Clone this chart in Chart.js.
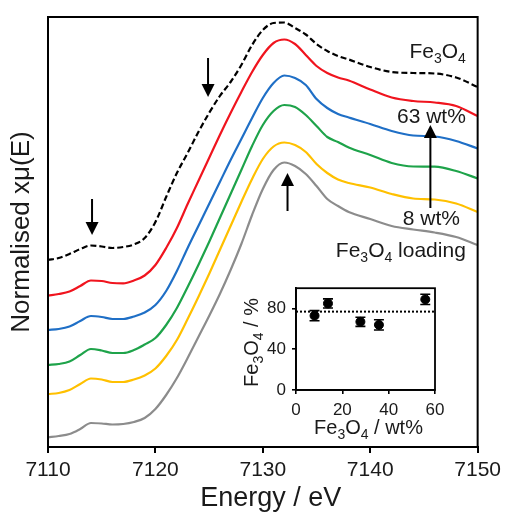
<!DOCTYPE html>
<html>
<head>
<meta charset="utf-8">
<script src="https://cdn.jsdelivr.net/npm/chart.js@4.4.1/dist/chart.umd.min.js"></script>
<style>
html, body { margin: 0; padding: 0; background: #fff; }
#wrap { position: relative; width: 506px; height: 514px; }
#main { position: absolute; left: 0; top: 0; }
#inset { position: absolute; left: 240px; top: 272px; }
</style>
</head>
<body>
<div id="wrap">
<canvas id="main" width="506" height="514"></canvas>
<canvas id="inset" width="215" height="175"></canvas>
</div>
<script>
// ----------------------------------------------------------------------
//	Fe K-edge XANES, stacked spectra + inset of Fe3O4 fraction
// ----------------------------------------------------------------------
const energy = [7110,7111,7112,7113,7114,7115,7116,7117,7118,7119,7120,7121,7122,7123,7124,7125,7126,7127,7128,7129,7130,7131,7132,7133,7134,7135,7136,7137,7138,7140,7142,7144,7146,7148,7150]

const fe3o4Ref = [1.87,1.89,1.93,1.98,2.015,2.005,1.99,2.00,2.025,2.09,2.25,2.50,2.74,2.94,3.15,3.34,3.51,3.65,3.82,4.02,4.17,4.24,4.245,4.19,4.125,4.03,3.96,3.91,3.875,3.80,3.75,3.74,3.735,3.695,3.60]
const redCurve = [1.513,1.53,1.555,1.61,1.665,1.66,1.64,1.637,1.665,1.715,1.82,1.99,2.19,2.43,2.66,2.89,3.12,3.34,3.55,3.75,3.92,4.04,4.075,4.03,3.92,3.81,3.74,3.695,3.665,3.575,3.495,3.46,3.445,3.41,3.31]
const blueCurve = [1.17,1.18,1.205,1.26,1.31,1.30,1.28,1.28,1.305,1.345,1.42,1.56,1.76,1.99,2.21,2.43,2.65,2.87,3.08,3.29,3.49,3.64,3.715,3.69,3.62,3.48,3.39,3.33,3.295,3.23,3.16,3.115,3.105,3.06,2.985]
const greenCurve = [0.82,0.83,0.855,0.92,0.98,0.965,0.94,0.94,0.97,1.025,1.09,1.22,1.39,1.60,1.82,2.05,2.29,2.53,2.77,3.01,3.22,3.36,3.42,3.40,3.32,3.21,3.10,3.05,2.995,2.92,2.84,2.805,2.803,2.76,2.685]
const yellowCurve = [0.53,0.54,0.57,0.63,0.685,0.675,0.65,0.65,0.675,0.715,0.785,0.91,1.07,1.28,1.50,1.73,1.97,2.21,2.45,2.68,2.88,3.005,3.045,3.02,2.95,2.83,2.74,2.675,2.64,2.595,2.53,2.485,2.475,2.435,2.35]
const greyCurve = [0.097,0.11,0.13,0.18,0.24,0.235,0.225,0.23,0.25,0.29,0.38,0.52,0.69,0.89,1.10,1.31,1.53,1.77,2.03,2.32,2.58,2.77,2.845,2.81,2.73,2.61,2.48,2.41,2.35,2.28,2.21,2.175,2.145,2.10,2.02]

const xTicks = [7110,7120,7130,7140,7150]

// inset
const loading = [8, 13.8, 27.8, 35.8, 55.8]
const fe3o4Frac = [73, 85, 67, 64, 89]
const fracErr = [5, 4.5, 4.5, 5, 5]
const fracMean = 77
const insetXTicks = [0,20,40,60]
const insetYTicks = [0,40,80]

const FONT = "'Liberation Sans', Arial, sans-serif"
const INK = '#1a1a1a'
Chart.defaults.font.family = FONT
Chart.defaults.color = INK

const FE3O4 = [['Fe',0],['3',1],['O',0],['4',1]]

// ----------------------------------------------------------------------
function xy(ys)
{
	return energy.map((e,i) => ({x: e, y: ys[i]}))
}

function line(ys, color, dash)
{
	return {
		data: xy(ys),
		borderColor: color,
		borderWidth: 2.2,
		borderDash: dash || [],
		pointRadius: 0,
		tension: 0.4,
		cubicInterpolationMode: 'monotone',
		fill: false
		}
}

function subText(ctx, parts, x, y, size, align)
{
	const big = size + "px " + FONT
	const small = Math.round(size * 0.68) + "px " + FONT
	let w = 0
	parts.forEach(p => { ctx.font = p[1] ? small : big; w += ctx.measureText(p[0]).width })
	let cx = align == 'right' ? x - w : (align == 'center' ? x - w / 2 : x)
	ctx.textAlign = 'left'
	ctx.textBaseline = 'alphabetic'
	parts.forEach(p => {
		ctx.font = p[1] ? small : big
		ctx.fillText(p[0], cx, p[1] ? y + size * 0.24 : y)
		cx += ctx.measureText(p[0]).width
		})
}

function arrow(ctx, px, yTail, yTip)
{
	const dir = yTip > yTail ? 1 : -1
	ctx.beginPath()
	ctx.moveTo(px, yTail)
	ctx.lineTo(px, yTip - dir * 11)
	ctx.stroke()
	ctx.beginPath()
	ctx.moveTo(px, yTip)
	ctx.lineTo(px - 6.5, yTip - dir * 13)
	ctx.lineTo(px + 6.5, yTip - dir * 13)
	ctx.closePath()
	ctx.fill()
}

// annotation places in data units (energy, intensity)
const arrowsAt = [[7114.1, 2.48, 2.12], [7124.9, 3.89, 3.50], [7132.3, 2.36, 2.74], [7145.6, 2.39, 3.22]]
const labelsAt = [
	{e: 7148.9, v: 3.89, parts: FE3O4},
	{e: 7148.9, v: 3.24, parts: [['63 wt%',0]]},
	{e: 7148.35, v: 2.22, parts: [['8 wt%',0]]},
	{e: 7148.9, v: 1.90, parts: FE3O4.concat([[' loading',0]])}
	]

const mainDecor = {
	id: 'mainDecor',
	afterDraw(chart)
	{
		const {ctx, chartArea: a, scales: {x, y}} = chart
		ctx.save()
		ctx.strokeStyle = '#000'
		ctx.lineWidth = 2
		ctx.strokeRect(a.left, a.top, a.right - a.left, a.bottom - a.top)
		ctx.fillStyle = '#000'
		arrowsAt.forEach(r => arrow(ctx, x.getPixelForValue(r[0]), y.getPixelForValue(r[1]), y.getPixelForValue(r[2])))
		ctx.fillStyle = INK
		labelsAt.forEach(l => subText(ctx, l.parts, x.getPixelForValue(l.e), y.getPixelForValue(l.v), 21, 'right'))
		// x axis title, sits a little right of the plot centre
		ctx.font = "27px " + FONT
		ctx.textAlign = 'center'
		ctx.textBaseline = 'middle'
		ctx.fillText('Energy / eV', (a.left + a.right) / 2 + 8, 499)
		ctx.restore()
	}
}

new Chart(document.getElementById('main'), {
	type: 'line',
	data: {
		datasets: [
			line(greyCurve, '#8c8c8c'),
			line(yellowCurve, '#ffc000'),
			line(greenCurve, '#1ea34a'),
			line(blueCurve, '#1f6fc6'),
			line(redCurve, '#f0141e'),
			line(fe3o4Ref, '#000000', [6,3])
			]
		},
	options: {
		responsive: false,
		animation: false,
		events: [],
		layout: {padding: {left: 0, right: 28, top: 17, bottom: 0}},
		plugins: {legend: {display: false}, tooltip: {enabled: false}},
		scales: {
			x: {
				type: 'linear', min: 7110, max: 7150,
				afterFit: s => { s.height = 67 },
				afterBuildTicks: s => { s.ticks = xTicks.map(v => ({value: v})) },
				ticks: {font: {size: 21}, padding: 5, color: INK, maxRotation: 0, callback: v => String(v)},
				grid: {display: true, drawOnChartArea: false, drawTicks: true, tickLength: 6, color: '#000', lineWidth: 2},
				border: {display: true, color: '#000', width: 2}
				},
			y: {
				min: 0, max: 4.3,
				afterFit: s => { s.width = 48 },
				ticks: {display: false},
				grid: {display: false},
				border: {display: true, color: '#000', width: 2},
				title: {display: true, text: 'Normalised xμ(E)', font: {size: 26}, color: INK, padding: {top: 6, bottom: 0}}
				}
			}
		},
	plugins: [mainDecor]
})

// ----------------------------------------------------------------------
const insetDecor = {
	id: 'insetDecor',
	afterDatasetsDraw(chart)
	{
		const {ctx, chartArea: a, scales: {x, y}} = chart
		ctx.save()
		ctx.strokeStyle = '#000'
		ctx.lineWidth = 1.6
		loading.forEach((v,i) => {
			const px = x.getPixelForValue(v)
			const yt = y.getPixelForValue(fe3o4Frac[i] + fracErr[i])
			const yb = y.getPixelForValue(fe3o4Frac[i] - fracErr[i])
			ctx.beginPath()
			ctx.moveTo(px, yt); ctx.lineTo(px, yb)
			ctx.moveTo(px - 5, yt); ctx.lineTo(px + 5, yt)
			ctx.moveTo(px - 5, yb); ctx.lineTo(px + 5, yb)
			ctx.stroke()
			})
		ctx.lineWidth = 1.8
		ctx.strokeRect(a.left, a.top, a.right - a.left, a.bottom - a.top)
		ctx.fillStyle = INK
		subText(ctx, FE3O4.concat([[' / wt%',0]]), (a.left + a.right) / 2 + 3, 162, 20, 'center')
		ctx.translate(18, 70.5)
		ctx.rotate(-Math.PI / 2)
		subText(ctx, FE3O4.concat([[' / %',0]]), 0, 0, 20, 'center')
		ctx.restore()
	}
}

new Chart(document.getElementById('inset'), {
	type: 'scatter',
	data: {
		datasets: [
			{
			data: loading.map((v,i) => ({x: v, y: fe3o4Frac[i]})),
			pointRadius: 4.5,
			backgroundColor: '#000',
			borderColor: '#000'
			},
			{
			type: 'line',
			data: [{x: 0, y: fracMean}, {x: 60, y: fracMean}],
			borderColor: '#000',
			borderWidth: 2,
			borderDash: [2,2],
			pointRadius: 0
			}
			]
		},
	options: {
		responsive: false,
		animation: false,
		events: [],
		layout: {padding: {left: 0, right: 20, top: 10, bottom: 0}},
		plugins: {legend: {display: false}, tooltip: {enabled: false}},
		scales: {
			x: {
				type: 'linear', min: 0, max: 60,
				afterFit: s => { s.height = 57 },
				afterBuildTicks: s => { s.ticks = insetXTicks.map(v => ({value: v})) },
				ticks: {font: {size: 17}, padding: 6, color: INK, maxRotation: 0},
				grid: {display: true, drawOnChartArea: false, tickLength: 4, color: '#000', lineWidth: 1.6},
				border: {display: true, color: '#000', width: 1.8}
				},
			y: {
				min: 0, max: 100,
				afterFit: s => { s.width = 56 },
				afterBuildTicks: s => { s.ticks = insetYTicks.map(v => ({value: v})) },
				ticks: {font: {size: 17}, padding: 6, color: INK},
				grid: {display: true, drawOnChartArea: false, tickLength: 4, color: '#000', lineWidth: 1.6},
				border: {display: true, color: '#000', width: 1.8}
				}
			}
		},
	plugins: [insetDecor]
})
</script>
</body>
</html>
